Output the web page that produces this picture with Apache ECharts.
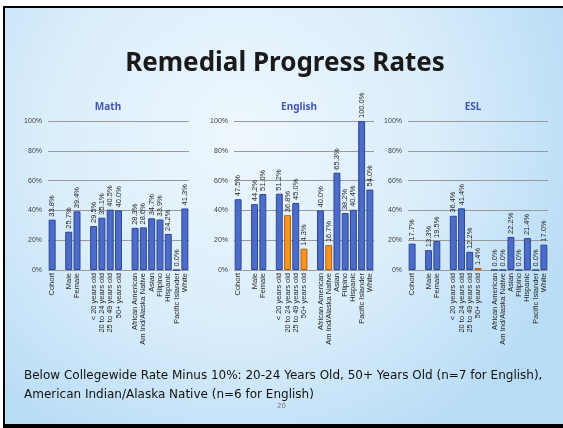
<!DOCTYPE html>
<html>
<head>
<meta charset="utf-8">
<script src="https://cdn.jsdelivr.net/npm/echarts@6/dist/echarts.min.js"></script>
<style>
  html, body { margin: 0; padding: 0; background: #fff; }
  #chart { width: 563px; height: 428px; }
</style>
</head>
<body>
<div id="chart"></div>
<script>
  // categories, '' = empty slot between groups
  var categories = ['Cohort', '', 'Male', 'Female', '', '< 20 years old', '20 to 24 years old', '25 to 49 years old', '50+ years old', '',
    'African American', 'Am Ind/Alaska Native', 'Asian', 'Filipino', 'Hispanic', 'Pacific Islander', 'White'];
  var mathValues = [33.8, null, 25.7, 39.4, null, 29.5, 35.1, 40.5, 40.0, null, 28.3, 28.6, 34.7, 33.9, 24.2, 0.0, 41.3];
  var englishValues = [47.5, null, 44.2, 51.0, null, 51.2, 36.8, 45.0, 14.3, null, 40.0, 16.7, 65.3, 38.2, 40.4, 100.0, 54.0];
  var eslValues = [17.7, null, 13.3, 19.5, null, 36.4, 41.4, 12.2, 1.4, null, 0.0, 0.0, 22.2, 0.0, 21.4, 0.0, 17.0];
  // below collegewide rate minus 10% (orange)
  var mathLow = [];
  var englishLow = ['20 to 24 years old', '50+ years old', 'Am Ind/Alaska Native'];
  var eslLow = ['50+ years old'];
  var yTicks = [0, 20, 40, 60, 80, 100];
  var panelTitles = ['Math', 'English', 'ESL'];

  var blue = '#4C6CC8', blueEdge = '#2C4696';
  var orange = '#F7931E', orangeEdge = '#B9620F';

  function buildData(values, low) {
    return values.map(function (v, i) {
      if (v === null) return '-';
      var hi = low.indexOf(categories[i]) >= 0;
      return {
        value: v,
        itemStyle: { color: hi ? orange : blue, borderColor: hi ? orangeEdge : blueEdge }
      };
    });
  }

  var grids = [
    { left: 48, top: 121, width: 141, height: 149 },
    { left: 234, top: 121, width: 140, height: 149 },
    { left: 408, top: 121, width: 140, height: 149 }
  ];
  var titleX = [103, 294, 468];

  var xAxes = [], yAxes = [], series = [], titles = [];
  var allValues = [mathValues, englishValues, eslValues];
  var allLow = [mathLow, englishLow, eslLow];

  for (var i = 0; i < 3; i++) {
    xAxes.push({
      type: 'category',
      gridIndex: i,
      data: categories,
      axisLine: { show: false },
      axisTick: { show: false },
      axisLabel: {
        interval: 0, rotate: 90, margin: 3,
        fontSize: 7.5, color: '#262626', fontFamily: 'Liberation Sans'
      }
    });
    yAxes.push({
      type: 'value',
      gridIndex: i,
      min: 0, max: 100, interval: 20,
      axisLine: { show: false },
      axisTick: { show: false },
      splitLine: { lineStyle: { color: '#999999', width: 1 } },
      axisLabel: {
        margin: 6, fontSize: 7, color: '#404040', fontFamily: 'Liberation Sans',
        formatter: function (v) { return yTicks.indexOf(v) >= 0 ? v + '%' : ''; }
      }
    });
    series.push({
      type: 'bar',
      xAxisIndex: i,
      yAxisIndex: i,
      barCategoryGap: '16%',
      data: buildData(allValues[i], allLow[i]),
      itemStyle: { borderWidth: 1 },
      label: {
        show: true, position: 'top', rotate: 90, distance: 3,
        align: 'left', verticalAlign: 'middle',
        fontSize: 7.5, color: '#262626', fontFamily: 'Liberation Sans',
        formatter: function (p) { return p.value.toFixed(1) + '%'; }
      }
    });
    titles.push({
      text: panelTitles[i],
      left: titleX[i], top: 97, textAlign: 'center',
      textStyle: { fontSize: 10, fontWeight: 'bold', color: '#4155B2', fontFamily: 'Noto Sans' }
    });
  }

  titles.push({
    text: 'Remedial Progress Rates',
    left: 280, top: 46, textAlign: 'center',
    textStyle: { fontSize: 26, fontWeight: 'bold', color: '#1A1A1A', fontFamily: 'Noto Sans' }
  });

  var chart = echarts.init(document.getElementById('chart'), null, { renderer: 'canvas' });
  chart.setOption({
    animation: false,
    backgroundColor: '#ffffff',
    title: titles,
    grid: grids,
    xAxis: xAxes,
    yAxis: yAxes,
    series: series,
    graphic: [
      {
        type: 'rect', z: -10, silent: true,
        shape: { x: 4, y: 6, width: 563, height: 420 },
        style: {
          fill: {
            type: 'radial', x: 0.42, y: 0.3, r: 0.85,
            colorStops: [
              { offset: 0, color: '#EEF7FD' },
              { offset: 0.55, color: '#DAEDFB' },
              { offset: 1, color: '#B8DCF5' }
            ]
          }
        }
      },
      {
        type: 'rect', z: -9, silent: true,
        shape: { x: 4, y: 6, width: 563, height: 2 },
        style: { fill: '#000' }
      },
      {
        type: 'rect', z: -9, silent: true,
        shape: { x: 3, y: 6, width: 2, height: 420 },
        style: { fill: '#000' }
      },
      {
        type: 'rect', z: -9, silent: true,
        shape: { x: 3, y: 424, width: 563, height: 4 },
        style: { fill: '#000' }
      },
      {
        type: 'text', left: 24, top: 366,
        style: {
          text: 'Below Collegewide Rate Minus 10%: 20-24 Years Old, 50+ Years Old (n=7 for English),\nAmerican Indian/Alaska Native (n=6 for English)',
          font: '12px "DejaVu Sans"', fill: '#111', lineHeight: 19
        }
      },
      {
        type: 'text', left: 277, top: 403,
        style: { text: '20', font: '7px "DejaVu Sans"', fill: '#777' }
      }
    ]
  });
</script>
</body>
</html>
